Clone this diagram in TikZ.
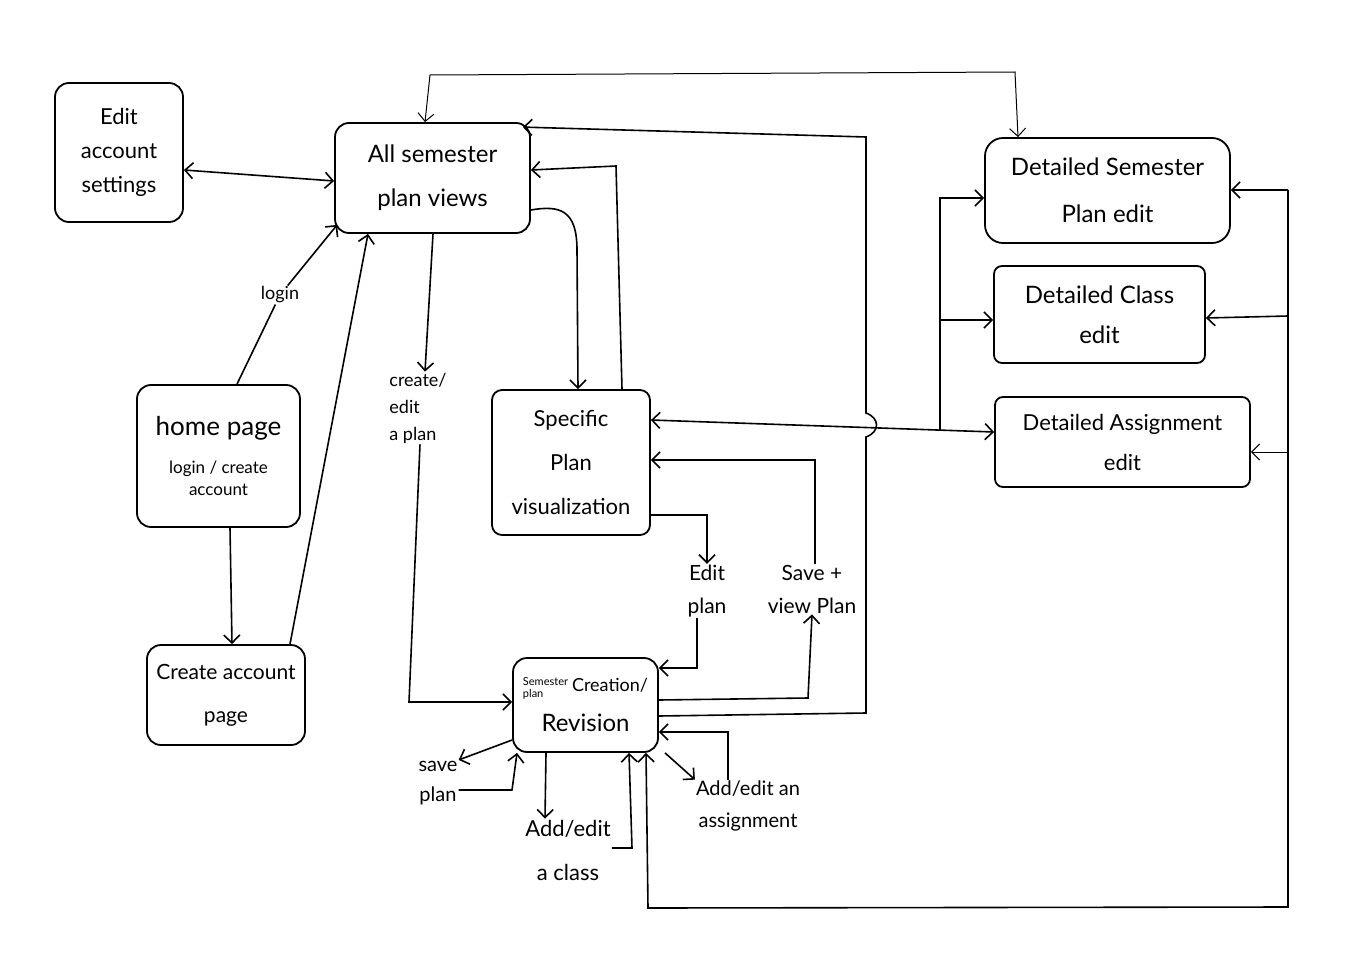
\documentclass[tikz,border=0pt]{standalone}
\usepackage{fontspec}
\setmainfont{Lato}
\usetikzlibrary{arrows.meta,calc}
\newcommand\hwsize[2]{\fontsize{#1}{#2}\selectfont}
\begin{document}
\begin{tikzpicture}[x=1pt,y=-1pt,
  >={Straight Barb[length=8pt,width=16pt]},
  box/.style={draw, line width=1.8pt, rounded corners=14pt, align=center, inner sep=0pt},
  wire/.style={line width=1.6pt},
  thinwire/.style={line width=1pt},
  lbl/.style={align=center, inner sep=1pt}]
\useasboundingbox[fill=white] (0,0) rectangle (1356,960);

% screens
\node[box, minimum width=128, minimum height=139, font=\hwsize{22}{34}] (acct) at (119,152.5) {Edit\\account\\settings};
\node[box, minimum width=195, minimum height=110, font=\hwsize{24}{44}] (allv) at (432.5,178) {All semester\\plan views};
\node[box, minimum width=163, minimum height=142, font=\hwsize{17}{22}] (home) at (218.5,456)
  {{\hwsize{26}{30}home page}\\[16pt]login / create\\account};
\node[box, minimum width=158, minimum height=100, font=\hwsize{21}{43}] (create) at (226,695) {Create account\\page};
\node[box, minimum width=158, minimum height=145, font=\hwsize{22}{44}, rounded corners=10pt] (spec) at (571,462.5) {Specific\\Plan\\visualization};
\node[box, minimum width=145, minimum height=94, font=\hwsize{24}{28}] (rev) at (585.5,705)
  {{\hwsize{11}{11}\begin{tabular}{@{}l@{}}Semester\\plan\end{tabular}}\,{\hwsize{18}{20}Creation/}\\[12pt]Revision};
\node[box, minimum width=245, minimum height=105, font=\hwsize{24}{47}, rounded corners=18pt] (dsem) at (1107.5,190.5) {Detailed Semester\\Plan edit};
\node[box, minimum width=211, minimum height=97, font=\hwsize{24}{40}, rounded corners=8pt] (dcls) at (1099.5,314.5) {Detailed Class\\edit};
\node[box, minimum width=255, minimum height=90, font=\hwsize{22}{40}, rounded corners=8pt] (dasg) at (1122.5,442) {Detailed Assignment\\edit};

% action labels
\node[lbl, font=\hwsize{18}{20}] (login) at (280,295) {login};
\node[lbl, font=\hwsize{18}{27}, align=left] (crlab) at (418,408) {create/\\edit\\a plan};
\node[lbl, font=\hwsize{21}{33}] (editp) at (707,591) {Edit\\plan};
\node[lbl, font=\hwsize{21}{33}] (savev) at (812,589) {Save +\\view Plan};
\node[lbl, font=\hwsize{20}{30}] (savep) at (438,783) {save\\plan};
\node[lbl, font=\hwsize{22}{44}] (addc) at (568,850) {Add/edit\\a class};
\node[lbl, font=\hwsize{20}{32}] (adda) at (748,806) {Add/edit an\\assignment};

% left part
\draw[wire,<->] (acct.east |- 0,170) -- (allv.west |- 0,181);
\draw[wire] (237,0 |- home.north) -- (login);
\draw[wire,->] (login) -- ($(allv.south west)+(3,-9)$);
\draw[wire,->] (290,0 |- create.north) -- (368,0 |- allv.south);
\draw[wire,->] (230,0 |- home.south) -- (232,0 |- create.north);

% plan views to creation / visualization
\draw[wire,->] (433,0 |- allv.south) -- (425,0 |- crlab.north);
\draw[wire,->] (420,0 |- crlab.south) -- (409,702) -- (rev.west |- 0,702);
\draw[wire,->] (allv.east |- 0,210) .. controls (560,205) and (577,210) .. (577,250) -- (578,0 |- spec.north);
\draw[wire,->] (622,0 |- spec.north) -- (616,166) -- (allv.east |- 0,170);
\draw[thinwire,<->] (425,0 |- allv.north) -- (430,75) -- (1015,72) -- (1018,0 |- dsem.north);
\draw[wire,->] (rev.east |- 0,716) -- (866,713) -- (866,437)
  .. controls (880,432) and (880,418) .. (866,413) -- (866,137) -- ($(allv.north east)+(-8,5)$);

% visualization to detailed edits
\coordinate (br) at (940,430);
\draw[wire,<->] (spec.east |- 0,420) -- (dasg.west |- 0,432);
\draw[wire,->] (br) -- (940,198) -- (dsem.west |- 0,198);
\draw[wire,->] (940,320) -- (dcls.west |- 0,320);

% return loop from the detailed edits
\coordinate (rt) at (1288,190);
\draw[wire,->] (rt) -- (dsem.east |- rt);
\draw[wire,->] (1288,316) -- (dcls.east |- 0,318);
\draw[thinwire,->] (1288,452) -- (dasg.east |- 0,452);
\draw[wire,->] (rt) -- (1288,907) -- (648,908) -- (646,0 |- rev.south);

% edit / save cycle
\draw[wire,->] (spec.east |- 0,515) -- (707,515) -- (707,0 |- editp.north);
\draw[wire,->] (697,0 |- editp.south) -- (697,668) -- (rev.east |- 0,668);
\draw[wire,->] (rev.east |- 0,700) -- (808,698) -- (812,0 |- savev.south);
\draw[wire,->] (815,0 |- savev.north) -- (815,460) -- (spec.east |- 0,460);

% creation sub-actions
\draw[wire,->] (rev.west |- 0,740) -- (savep.north east);
\draw[wire,->] (savep.east |- 0,790) -- (512,790) -- (517,0 |- rev.south);
\draw[wire,->] (546,0 |- rev.south) -- (545,0 |- addc.north);
\draw[wire,->] (addc.east |- 0,848) -- (632,848) -- (629,0 |- rev.south);
\draw[wire,->] (665,0 |- rev.south) -- (adda.north west);
\draw[wire,->] (728,0 |- adda.north) -- (728,732) -- (rev.east |- 0,732);
\end{tikzpicture}
\end{document}
